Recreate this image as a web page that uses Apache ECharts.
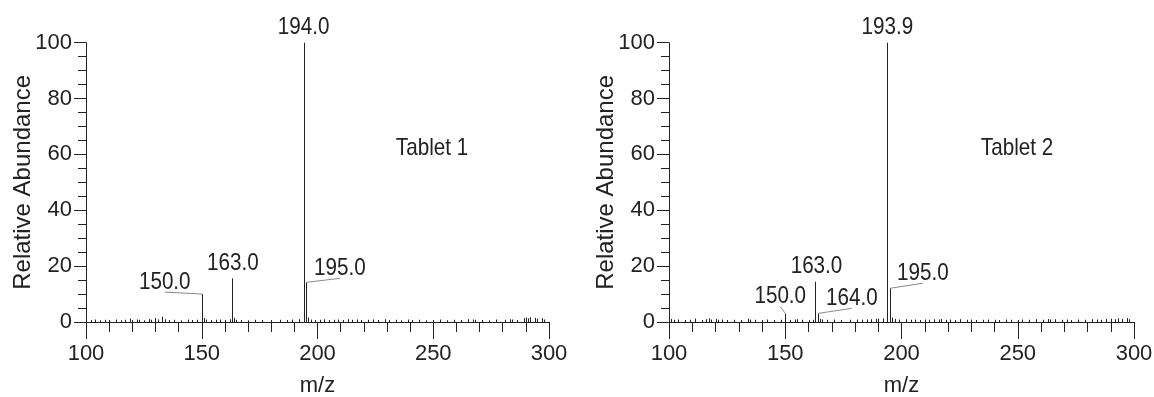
<!DOCTYPE html>
<html>
<head>
<meta charset="utf-8">
<script src="https://cdn.jsdelivr.net/npm/echarts@6/dist/echarts.min.js"></script>
<style>
html,body{margin:0;padding:0;background:#fff;}
#chart{width:1154px;height:397px;}
</style>
</head>
<body>
<div id="chart"></div>
<script>
// ---------- DATA ----------
const xTicks = [100, 150, 200, 250, 300];
const yTicks = [0, 20, 40, 60, 80, 100];
const panelNames = ['Tablet 1', 'Tablet 2'];

// Tablet 1 labelled peaks
const t1PeakMz = [150.0, 163.0, 194.0, 195.0];
const t1PeakInt = [10.0, 15.6, 100, 14.2];
const t1PeakLabel = ['150.0', '163.0', '194.0', '195.0'];
// Tablet 1 baseline noise
const t1NoiseMz = [102,104,106,108,110,113,115,117,119,120,122,123,125,127,128,130,131,133,134,136,138,141,144,146,148,151,152,154,156,158,160,162,164,165,167,170,173,176,180,184,187,189,192,196,197,199,201,203,205,207,209,211,213,215,217,219,222,224,226,229,231,234,236,239,241,244,247,250,253,256,259,262,265,267,268,271,274,277,281,283,284,286,289,290,291,292,294,295,297,298];
const t1NoiseInt = [0.7,0.9,0.6,0.8,0.7,0.9,0.6,0.8,1.2,0.7,0.9,0.8,0.6,1.1,0.8,1.4,0.9,1.9,1.0,0.7,0.8,0.6,0.9,0.7,0.8,1.4,0.9,0.7,0.8,0.9,0.7,1.0,1.5,0.8,0.7,0.6,0.8,0.7,0.7,0.8,0.7,0.9,1.0,1.6,0.9,0.7,0.8,1.0,0.7,0.8,0.9,0.7,1.0,0.8,0.9,0.7,0.8,0.9,0.7,1.0,0.7,0.8,0.6,0.9,0.7,0.8,0.6,0.7,0.9,0.6,0.8,0.7,1.0,0.9,0.8,0.7,0.6,0.9,0.8,1.0,0.9,0.7,1.4,1.6,1.3,1.7,1.5,1.2,1.4,0.9];

// Tablet 2 labelled peaks
const t2PeakMz = [150.0, 163.0, 164.0, 193.9, 195.0];
const t2PeakInt = [3.0, 14.4, 3.1, 100, 12.1];
const t2PeakLabel = ['150.0', '163.0', '164.0', '193.9', '195.0'];
// Tablet 2 baseline noise
const t2NoiseMz = [101,102,104,107,109,111,114,116,117,118,120,121,123,125,128,131,134,135,137,140,142,145,148,152,154,155,157,160,162,165,166,168,171,174,178,181,183,185,187,189,190,192,196,197,199,202,204,206,208,210,212,214,216,217,219,221,223,225,228,230,232,235,237,240,242,245,247,250,252,255,258,261,263,264,266,269,271,273,276,279,282,284,286,288,290,292,293,295,297,298];
const t2NoiseInt = [1.1,0.8,0.9,0.7,0.8,1.2,0.7,1.0,1.3,0.9,1.1,0.8,0.9,0.7,0.8,0.7,1.2,0.9,0.8,0.7,0.9,0.7,0.8,0.7,0.9,1.0,0.8,0.7,0.8,1.1,0.9,0.8,0.9,0.7,0.8,0.9,0.8,0.9,1.0,1.1,1.2,1.3,1.6,1.1,0.9,1.0,0.8,0.9,0.7,0.9,0.8,1.0,0.9,1.1,0.8,0.9,0.7,1.0,0.8,0.9,0.7,0.8,0.9,0.8,0.7,0.9,0.8,0.7,0.9,0.8,1.0,0.8,1.1,0.9,1.0,0.8,0.9,0.7,0.9,0.8,1.0,0.9,0.8,1.1,1.2,1.0,1.3,1.1,1.4,1.0];

// ---------- LAYOUT / STYLE (not data) ----------
const FONT = '"Liberation Sans", Arial, Helvetica, sans-serif';
const FS = 22;          // axis text size
const NFS = 24;         // axis name size
const LFS = 24;         // annotation text size
const SQ = 0.86;        // horizontal squeeze of annotation text
const INK = '#222';
// label offsets from peak top in px: [dx, dy]
const labelOffsets = [
  {'150.0': [-37, -12], '163.0': [1, -15], '194.0': [0, -15], '195.0': [34, -14]},
  {'150.0': [-5, -17], '163.0': [1, -15], '164.0': [34, -15], '193.9': [0, -15], '195.0': [33, -15]}
];
const peakLabels = [t1PeakLabel, t2PeakLabel];

function zipPairs(a, b) { return a.map((v, i) => [v, b[i]]); }

function stemRender(params, api) {
  const x = api.value(0), y = api.value(1);
  const top = api.coord([x, y]);
  const base = api.coord([x, 0]);
  const px = Math.round(top[0]) + 0.5;
  return {
    type: 'line',
    shape: { x1: px, y1: top[1], x2: px, y2: base[1] },
    style: { stroke: '#222', lineWidth: 1 }
  };
}

function makeLabelRender(panel) {
  return function (params, api) {
    const x = api.value(0), y = api.value(1);
    const name = peakLabels[panel][params.dataIndex];
    const top = api.coord([x, y]);
    const off = labelOffsets[panel][name] || [0, -15];
    const lx = top[0] + off[0], ly = top[1] + off[1];
    const children = [{
      type: 'text', x: lx, y: ly, scaleX: SQ,
      style: {
        text: name, x: 0, y: 0, align: 'center', verticalAlign: 'middle',
        font: LFS + 'px ' + FONT, fill: INK
      }
    }];
    if (Math.abs(off[0]) > 3) {
      children.push({
        type: 'line',
        shape: { x1: Math.round(top[0]) + 0.5, y1: top[1], x2: lx, y2: ly + 10 },
        style: { stroke: '#8a8a8a', lineWidth: 1 }
      });
    }
    return { type: 'group', children: children };
  };
}

function xAxisCfg(gi) {
  return {
    type: 'value', gridIndex: gi, min: xTicks[0], max: xTicks[xTicks.length - 1], interval: 50,
    name: 'm/z', nameLocation: 'middle', nameGap: 53,
    nameTextStyle: { fontFamily: FONT, fontSize: FS, color: INK },
    axisLine: { show: true, onZero: false, lineStyle: { color: INK, width: 1 } },
    axisTick: { show: true, inside: false, length: 17, lineStyle: { color: INK, width: 1 } },
    minorTick: { show: true, splitNumber: 5, length: 10, lineStyle: { color: INK, width: 1 } },
    axisLabel: { margin: 21, fontFamily: FONT, fontSize: FS, color: INK,
      formatter: v => xTicks.includes(v) ? String(v) : '' },
    splitLine: { show: false }
  };
}
function yAxisCfg(gi) {
  return {
    type: 'value', gridIndex: gi, min: yTicks[0], max: yTicks[yTicks.length - 1], interval: 20,
    name: 'Relative Abundance', nameLocation: 'middle', nameGap: 51, nameRotate: 90,
    nameMoveOverlap: false,
    nameTextStyle: { fontFamily: FONT, fontSize: NFS, color: INK },
    axisLine: { show: true, lineStyle: { color: INK, width: 1 } },
    axisTick: { show: true, inside: false, length: 12, lineStyle: { color: INK, width: 1 } },
    minorTick: { show: true, splitNumber: 4, length: 8, lineStyle: { color: INK, width: 1 } },
    axisLabel: { margin: 14, fontFamily: FONT, fontSize: FS, color: INK,
      formatter: v => yTicks.includes(v) ? String(v) : '' },
    splitLine: { show: false }
  };
}

const chart = echarts.init(document.getElementById('chart'), null, { renderer: 'canvas' });
chart.setOption({
  animation: false,
  backgroundColor: '#fff',
  grid: [
    { left: 86, width: 463, top: 42.7, height: 279.3, containLabel: false, outerBoundsMode: 'none' },
    { left: 669, width: 465, top: 42.7, height: 279.3, containLabel: false, outerBoundsMode: 'none' }
  ],
  xAxis: [xAxisCfg(0), xAxisCfg(1)],
  yAxis: [yAxisCfg(0), yAxisCfg(1)],
  graphic: [
    { type: 'text', x: 432, y: 148, scaleX: SQ, style: { text: panelNames[0], align: 'center', verticalAlign: 'middle', font: LFS + 'px ' + FONT, fill: INK } },
    { type: 'text', x: 1017, y: 148, scaleX: SQ, style: { text: panelNames[1], align: 'center', verticalAlign: 'middle', font: LFS + 'px ' + FONT, fill: INK } }
  ],
  series: [
    { type: 'custom', xAxisIndex: 0, yAxisIndex: 0, renderItem: stemRender, data: zipPairs(t1NoiseMz, t1NoiseInt) },
    { type: 'custom', xAxisIndex: 0, yAxisIndex: 0, renderItem: stemRender, data: zipPairs(t1PeakMz, t1PeakInt) },
    { type: 'custom', xAxisIndex: 0, yAxisIndex: 0, renderItem: makeLabelRender(0), data: zipPairs(t1PeakMz, t1PeakInt), z: 5 },
    { type: 'custom', xAxisIndex: 1, yAxisIndex: 1, renderItem: stemRender, data: zipPairs(t2NoiseMz, t2NoiseInt) },
    { type: 'custom', xAxisIndex: 1, yAxisIndex: 1, renderItem: stemRender, data: zipPairs(t2PeakMz, t2PeakInt) },
    { type: 'custom', xAxisIndex: 1, yAxisIndex: 1, renderItem: makeLabelRender(1), data: zipPairs(t2PeakMz, t2PeakInt), z: 5 }
  ]
});
</script>
</body>
</html>
